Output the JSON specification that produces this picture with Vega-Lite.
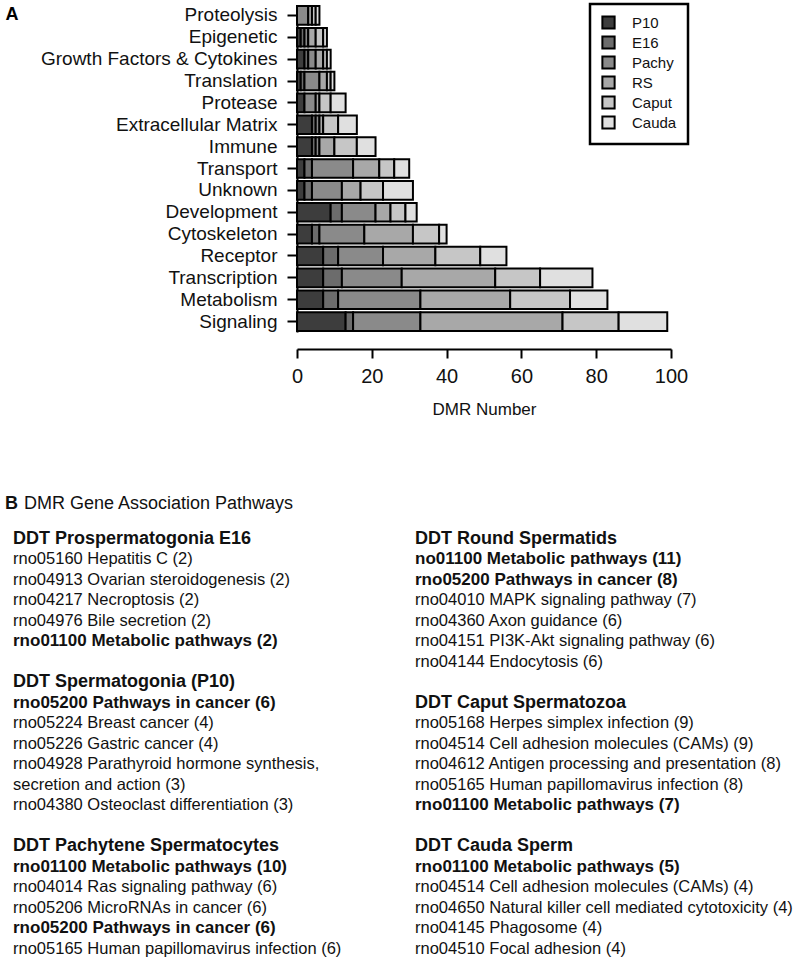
{
  "$schema": "https://vega.github.io/schema/vega-lite/v6.json",
  "background": "white",
  "padding": {"left": 5, "top": 2, "right": 5, "bottom": 0},
  "config": {"font": "Liberation Sans", "view": {"stroke": null}, "legend": {"strokeColor": "black", "strokeWidth": 2.5}},
  "spacing": 77,
  "vconcat": [
    {
      "width": 374,
      "height": 327,
      "data": {"values": [
        {"category": "Proteolysis", "stage": "Pachy", "rank": 3, "count": 3},
        {"category": "Proteolysis", "stage": "RS", "rank": 4, "count": 1},
        {"category": "Proteolysis", "stage": "Caput", "rank": 5, "count": 1},
        {"category": "Proteolysis", "stage": "Cauda", "rank": 6, "count": 1},
        {"category": "Epigenetic", "stage": "P10", "rank": 1, "count": 1},
        {"category": "Epigenetic", "stage": "E16", "rank": 2, "count": 1},
        {"category": "Epigenetic", "stage": "Pachy", "rank": 3, "count": 1},
        {"category": "Epigenetic", "stage": "RS", "rank": 4, "count": 2},
        {"category": "Epigenetic", "stage": "Caput", "rank": 5, "count": 2},
        {"category": "Epigenetic", "stage": "Cauda", "rank": 6, "count": 1},
        {"category": "Growth Factors & Cytokines", "stage": "P10", "rank": 1, "count": 2},
        {"category": "Growth Factors & Cytokines", "stage": "E16", "rank": 2, "count": 1},
        {"category": "Growth Factors & Cytokines", "stage": "Pachy", "rank": 3, "count": 2},
        {"category": "Growth Factors & Cytokines", "stage": "RS", "rank": 4, "count": 2},
        {"category": "Growth Factors & Cytokines", "stage": "Caput", "rank": 5, "count": 1},
        {"category": "Growth Factors & Cytokines", "stage": "Cauda", "rank": 6, "count": 1},
        {"category": "Translation", "stage": "P10", "rank": 1, "count": 1},
        {"category": "Translation", "stage": "E16", "rank": 2, "count": 1},
        {"category": "Translation", "stage": "Pachy", "rank": 3, "count": 4},
        {"category": "Translation", "stage": "RS", "rank": 4, "count": 2},
        {"category": "Translation", "stage": "Caput", "rank": 5, "count": 1},
        {"category": "Translation", "stage": "Cauda", "rank": 6, "count": 1},
        {"category": "Protease", "stage": "P10", "rank": 1, "count": 2},
        {"category": "Protease", "stage": "Pachy", "rank": 3, "count": 3},
        {"category": "Protease", "stage": "RS", "rank": 4, "count": 1},
        {"category": "Protease", "stage": "Caput", "rank": 5, "count": 3},
        {"category": "Protease", "stage": "Cauda", "rank": 6, "count": 4},
        {"category": "Extracellular Matrix", "stage": "P10", "rank": 1, "count": 4},
        {"category": "Extracellular Matrix", "stage": "E16", "rank": 2, "count": 1},
        {"category": "Extracellular Matrix", "stage": "Pachy", "rank": 3, "count": 1},
        {"category": "Extracellular Matrix", "stage": "RS", "rank": 4, "count": 1},
        {"category": "Extracellular Matrix", "stage": "Caput", "rank": 5, "count": 4},
        {"category": "Extracellular Matrix", "stage": "Cauda", "rank": 6, "count": 5},
        {"category": "Immune", "stage": "P10", "rank": 1, "count": 4},
        {"category": "Immune", "stage": "E16", "rank": 2, "count": 1},
        {"category": "Immune", "stage": "Pachy", "rank": 3, "count": 1},
        {"category": "Immune", "stage": "RS", "rank": 4, "count": 4},
        {"category": "Immune", "stage": "Caput", "rank": 5, "count": 6},
        {"category": "Immune", "stage": "Cauda", "rank": 6, "count": 5},
        {"category": "Transport", "stage": "P10", "rank": 1, "count": 2},
        {"category": "Transport", "stage": "E16", "rank": 2, "count": 2},
        {"category": "Transport", "stage": "Pachy", "rank": 3, "count": 11},
        {"category": "Transport", "stage": "RS", "rank": 4, "count": 7},
        {"category": "Transport", "stage": "Caput", "rank": 5, "count": 4},
        {"category": "Transport", "stage": "Cauda", "rank": 6, "count": 4},
        {"category": "Unknown", "stage": "P10", "rank": 1, "count": 2},
        {"category": "Unknown", "stage": "E16", "rank": 2, "count": 2},
        {"category": "Unknown", "stage": "Pachy", "rank": 3, "count": 8},
        {"category": "Unknown", "stage": "RS", "rank": 4, "count": 5},
        {"category": "Unknown", "stage": "Caput", "rank": 5, "count": 6},
        {"category": "Unknown", "stage": "Cauda", "rank": 6, "count": 8},
        {"category": "Development", "stage": "P10", "rank": 1, "count": 9},
        {"category": "Development", "stage": "E16", "rank": 2, "count": 3},
        {"category": "Development", "stage": "Pachy", "rank": 3, "count": 9},
        {"category": "Development", "stage": "RS", "rank": 4, "count": 4},
        {"category": "Development", "stage": "Caput", "rank": 5, "count": 4},
        {"category": "Development", "stage": "Cauda", "rank": 6, "count": 3},
        {"category": "Cytoskeleton", "stage": "P10", "rank": 1, "count": 4},
        {"category": "Cytoskeleton", "stage": "E16", "rank": 2, "count": 2},
        {"category": "Cytoskeleton", "stage": "Pachy", "rank": 3, "count": 12},
        {"category": "Cytoskeleton", "stage": "RS", "rank": 4, "count": 13},
        {"category": "Cytoskeleton", "stage": "Caput", "rank": 5, "count": 7},
        {"category": "Cytoskeleton", "stage": "Cauda", "rank": 6, "count": 2},
        {"category": "Receptor", "stage": "P10", "rank": 1, "count": 7},
        {"category": "Receptor", "stage": "E16", "rank": 2, "count": 4},
        {"category": "Receptor", "stage": "Pachy", "rank": 3, "count": 12},
        {"category": "Receptor", "stage": "RS", "rank": 4, "count": 14},
        {"category": "Receptor", "stage": "Caput", "rank": 5, "count": 12},
        {"category": "Receptor", "stage": "Cauda", "rank": 6, "count": 7},
        {"category": "Transcription", "stage": "P10", "rank": 1, "count": 7},
        {"category": "Transcription", "stage": "E16", "rank": 2, "count": 5},
        {"category": "Transcription", "stage": "Pachy", "rank": 3, "count": 16},
        {"category": "Transcription", "stage": "RS", "rank": 4, "count": 25},
        {"category": "Transcription", "stage": "Caput", "rank": 5, "count": 12},
        {"category": "Transcription", "stage": "Cauda", "rank": 6, "count": 14},
        {"category": "Metabolism", "stage": "P10", "rank": 1, "count": 7},
        {"category": "Metabolism", "stage": "E16", "rank": 2, "count": 4},
        {"category": "Metabolism", "stage": "Pachy", "rank": 3, "count": 22},
        {"category": "Metabolism", "stage": "RS", "rank": 4, "count": 24},
        {"category": "Metabolism", "stage": "Caput", "rank": 5, "count": 16},
        {"category": "Metabolism", "stage": "Cauda", "rank": 6, "count": 10},
        {"category": "Signaling", "stage": "P10", "rank": 1, "count": 13},
        {"category": "Signaling", "stage": "E16", "rank": 2, "count": 2},
        {"category": "Signaling", "stage": "Pachy", "rank": 3, "count": 18},
        {"category": "Signaling", "stage": "RS", "rank": 4, "count": 38},
        {"category": "Signaling", "stage": "Caput", "rank": 5, "count": 15},
        {"category": "Signaling", "stage": "Cauda", "rank": 6, "count": 13}
      ]},
      "mark": {"type": "bar", "stroke": "black", "strokeWidth": 2},
      "encoding": {
        "y": {
          "field": "category", "type": "nominal",
          "sort": ["Proteolysis", "Epigenetic", "Growth Factors & Cytokines", "Translation", "Protease", "Extracellular Matrix", "Immune", "Transport", "Unknown", "Development", "Cytoskeleton", "Receptor", "Transcription", "Metabolism", "Signaling"],
          "scale": {"paddingInner": 0.15, "paddingOuter": 0.05},
          "axis": {
            "title": "A", "titleAngle": 0, "titleAlign": "left", "titleBaseline": "top",
            "titleX": -292, "titleY": 0, "titleFontSize": 18, "titleFontWeight": "bold", "titleColor": "black",
            "labelFontSize": 19, "labelColor": "#111", "labelPadding": 10, "labelLimit": 400,
            "tickSize": 10, "tickWidth": 2, "tickColor": "black",
            "domainColor": "black", "domainWidth": 2
          }
        },
        "x": {
          "field": "count", "type": "quantitative", "stack": "zero",
          "scale": {"domain": [0, 100], "nice": false},
          "axis": {
            "title": "DMR Number", "values": [0, 20, 40, 60, 80, 100], "grid": false, "offset": 17,
            "tickSize": 9, "tickWidth": 2, "tickColor": "black",
            "domainColor": "black", "domainWidth": 2, "labelFlush": false,
            "labelFontSize": 20, "labelColor": "#111", "labelPadding": 8,
            "titleFontSize": 17, "titleFontWeight": "normal", "titleColor": "#111", "titlePadding": 15
          }
        },
        "color": {
          "field": "stage", "type": "nominal",
          "scale": {"domain": ["P10", "E16", "Pachy", "RS", "Caput", "Cauda"], "range": ["#3d3d3d", "#6c6c6c", "#8a8a8a", "#a8a8a8", "#c6c6c6", "#e0e0e0"]},
          "legend": {
            "title": null, "orient": "none", "legendX": 293, "legendY": -1,
            "fillColor": "white", "padding": 11,
            "symbolType": "square", "symbolSize": 150, "symbolStrokeColor": "black", "symbolStrokeWidth": 2,
            "labelFontSize": 15, "labelColor": "#111", "labelOffset": 16, "rowPadding": -1
          }
        },
        "order": {"field": "rank", "type": "quantitative"}
      }
    },
    {
      "width": 402,
      "height": 430.5,
      "data": {"values": [
        {"col": "L", "line": 0, "kind": "panel", "label": "B"},
        {"col": "L", "line": 0, "kind": "panelTitle", "label": "DMR Gene Association Pathways"},
        {"col": "L", "line": 1, "kind": "header", "label": "DDT Prospermatogonia E16"},
        {"col": "L", "line": 2, "kind": "normal", "label": "rno05160 Hepatitis C (2)"},
        {"col": "L", "line": 3, "kind": "normal", "label": "rno04913 Ovarian steroidogenesis (2)"},
        {"col": "L", "line": 4, "kind": "normal", "label": "rno04217 Necroptosis (2)"},
        {"col": "L", "line": 5, "kind": "normal", "label": "rno04976 Bile secretion (2)"},
        {"col": "L", "line": 6, "kind": "bold", "label": "rno01100 Metabolic pathways (2)"},
        {"col": "L", "line": 8, "kind": "header", "label": "DDT Spermatogonia (P10)"},
        {"col": "L", "line": 9, "kind": "bold", "label": "rno05200 Pathways in cancer (6)"},
        {"col": "L", "line": 10, "kind": "normal", "label": "rno05224 Breast cancer (4)"},
        {"col": "L", "line": 11, "kind": "normal", "label": "rno05226 Gastric cancer (4)"},
        {"col": "L", "line": 12, "kind": "normal", "label": "rno04928 Parathyroid hormone synthesis,"},
        {"col": "L", "line": 13, "kind": "normal", "label": "secretion and action (3)"},
        {"col": "L", "line": 14, "kind": "normal", "label": "rno04380 Osteoclast differentiation (3)"},
        {"col": "L", "line": 16, "kind": "header", "label": "DDT Pachytene Spermatocytes"},
        {"col": "L", "line": 17, "kind": "bold", "label": "rno01100 Metabolic pathways (10)"},
        {"col": "L", "line": 18, "kind": "normal", "label": "rno04014 Ras signaling pathway (6)"},
        {"col": "L", "line": 19, "kind": "normal", "label": "rno05206 MicroRNAs in cancer (6)"},
        {"col": "L", "line": 20, "kind": "bold", "label": "rno05200 Pathways in cancer (6)"},
        {"col": "L", "line": 21, "kind": "normal", "label": "rno05165 Human papillomavirus infection (6)"},
        {"col": "R", "line": 1, "kind": "header", "label": "DDT Round Spermatids"},
        {"col": "R", "line": 2, "kind": "bold", "label": "no01100 Metabolic pathways (11)"},
        {"col": "R", "line": 3, "kind": "bold", "label": "rno05200 Pathways in cancer (8)"},
        {"col": "R", "line": 4, "kind": "normal", "label": "rno04010 MAPK signaling pathway (7)"},
        {"col": "R", "line": 5, "kind": "normal", "label": "rno04360 Axon guidance (6)"},
        {"col": "R", "line": 6, "kind": "normal", "label": "rno04151 PI3K-Akt signaling pathway (6)"},
        {"col": "R", "line": 7, "kind": "normal", "label": "rno04144 Endocytosis (6)"},
        {"col": "R", "line": 9, "kind": "header", "label": "DDT Caput Spermatozoa"},
        {"col": "R", "line": 10, "kind": "normal", "label": "rno05168 Herpes simplex infection (9)"},
        {"col": "R", "line": 11, "kind": "normal", "label": "rno04514 Cell adhesion molecules (CAMs) (9)"},
        {"col": "R", "line": 12, "kind": "normal", "label": "rno04612 Antigen processing and presentation (8)"},
        {"col": "R", "line": 13, "kind": "normal", "label": "rno05165 Human papillomavirus infection (8)"},
        {"col": "R", "line": 14, "kind": "bold", "label": "rno01100 Metabolic pathways (7)"},
        {"col": "R", "line": 16, "kind": "header", "label": "DDT Cauda Sperm"},
        {"col": "R", "line": 17, "kind": "bold", "label": "rno01100 Metabolic pathways (5)"},
        {"col": "R", "line": 18, "kind": "normal", "label": "rno04514 Cell adhesion molecules (CAMs) (4)"},
        {"col": "R", "line": 19, "kind": "normal", "label": "rno04650 Natural killer cell mediated cytotoxicity (4)"},
        {"col": "R", "line": 20, "kind": "normal", "label": "rno04145 Phagosome (4)"},
        {"col": "R", "line": 21, "kind": "normal", "label": "rno04510 Focal adhesion (4)"}
      ]},
      "encoding": {
        "x": {"field": "col", "type": "nominal", "scale": {"type": "point", "domain": ["L", "R"], "range": [-284, 118], "padding": 0}, "axis": null},
        "y": {"field": "line", "type": "quantitative", "scale": {"domain": [0, 21], "reverse": true, "nice": false, "zero": false}, "axis": null},
        "text": {"field": "label"}
      },
      "layer": [
        {"transform": [{"filter": "datum.kind === 'normal'"}], "mark": {"type": "text", "align": "left", "baseline": "middle", "fontSize": 16.5, "color": "#111"}},
        {"transform": [{"filter": "datum.kind === 'bold'"}], "mark": {"type": "text", "align": "left", "baseline": "middle", "fontSize": 17, "fontWeight": "bold", "color": "#111"}},
        {"transform": [{"filter": "datum.kind === 'header'"}], "mark": {"type": "text", "align": "left", "baseline": "middle", "fontSize": 18, "fontWeight": "bold", "color": "#111"}},
        {"transform": [{"filter": "datum.kind === 'panel'"}], "mark": {"type": "text", "align": "left", "baseline": "middle", "fontSize": 18, "fontWeight": "bold", "color": "#111", "dx": -8, "dy": -14.5}},
        {"transform": [{"filter": "datum.kind === 'panelTitle'"}], "mark": {"type": "text", "align": "left", "baseline": "middle", "fontSize": 18, "color": "#111", "dx": 11, "dy": -14.5}}
      ]
    }
  ]
}
